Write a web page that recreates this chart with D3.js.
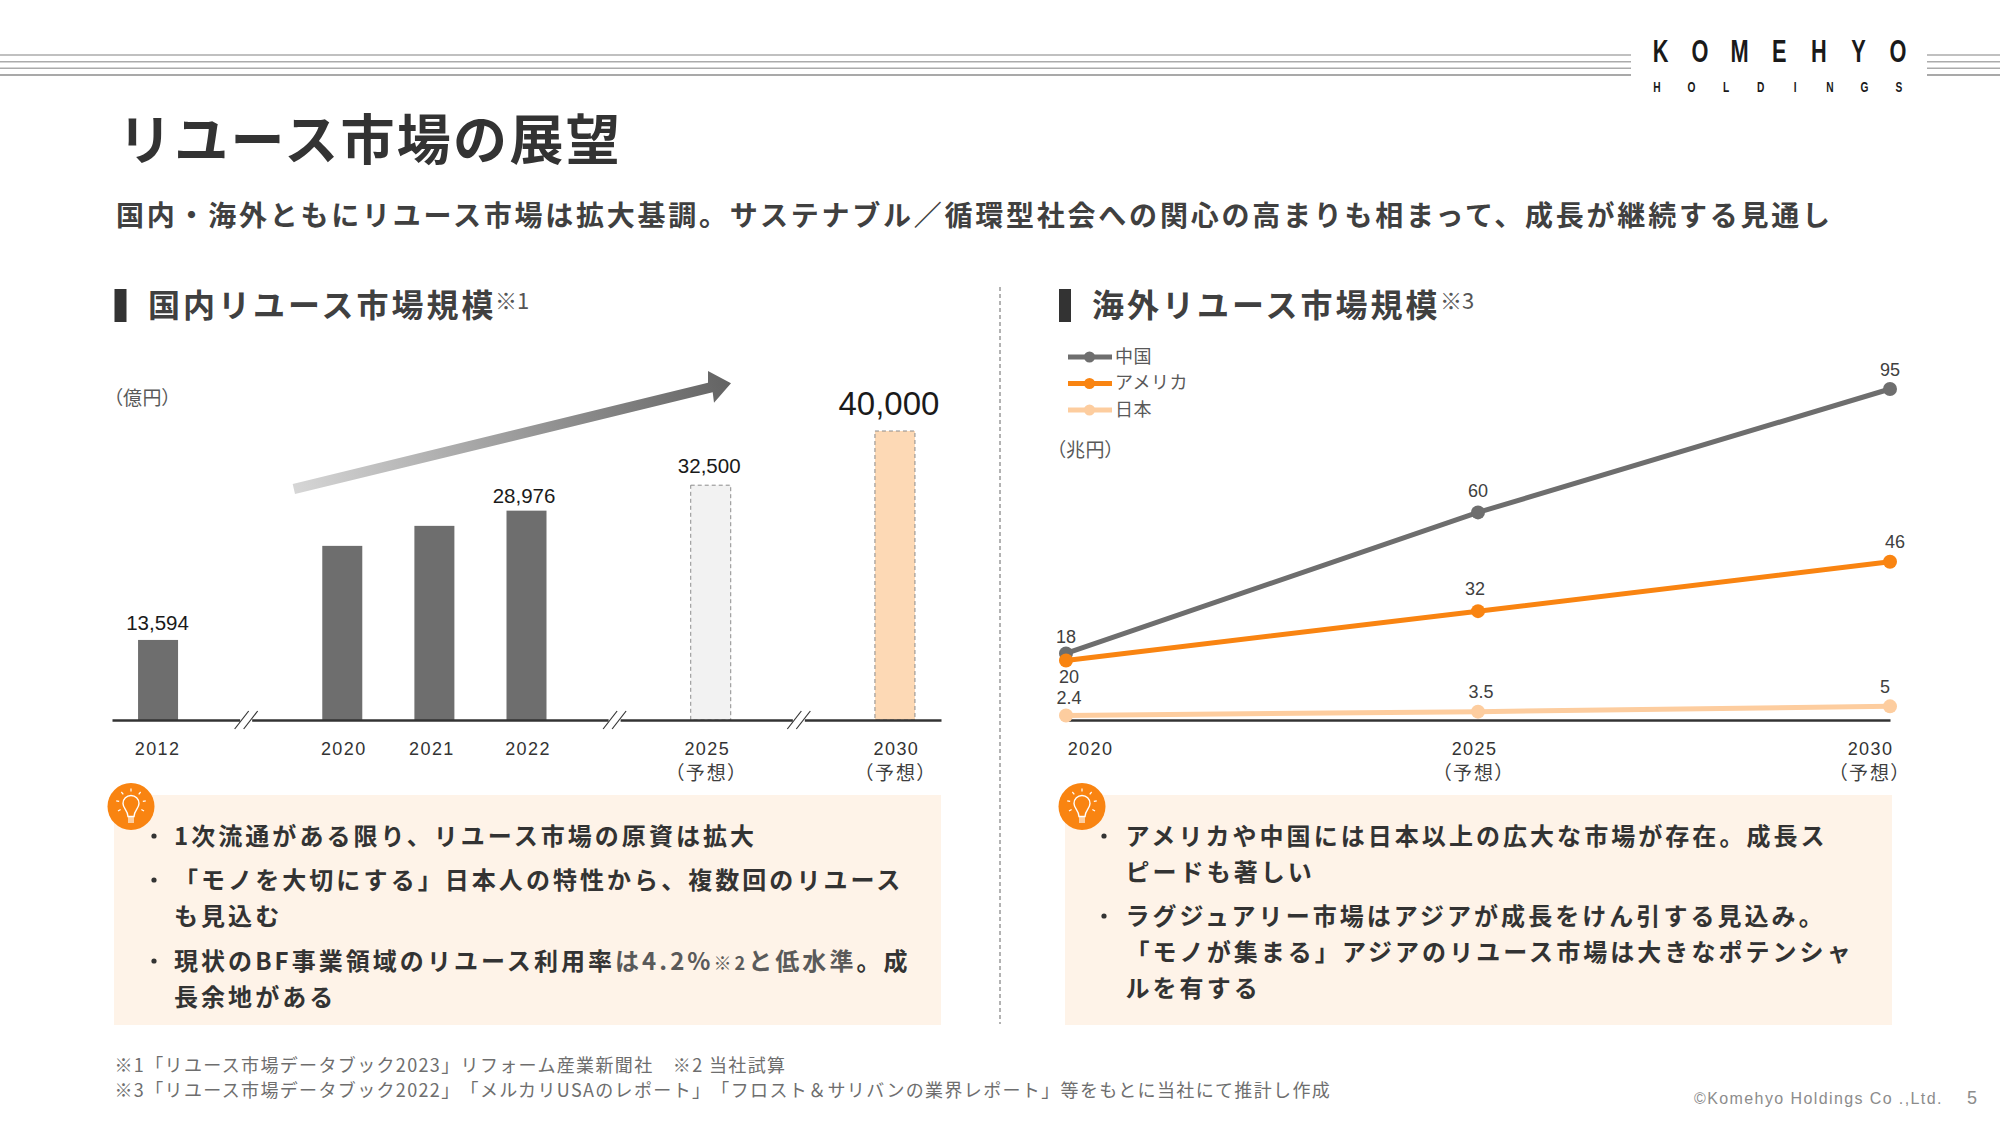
<!DOCTYPE html>
<html lang="ja">
<head>
<meta charset="utf-8">
<title>リユース市場の展望</title>
<script src="https://cdn.jsdelivr.net/npm/d3@7"></script>
<style>
  body { margin: 0; background: #fff; }
  text { font-family: "Noto Sans CJK JP", "Noto Sans", sans-serif; text-spacing-trim: space-all; }
  .num text, text.num { font-family: "Liberation Sans", "Noto Sans CJK JP", sans-serif; }
</style>
</head>
<body>
<svg id="slide" width="2000" height="1125" viewBox="0 0 2000 1125"></svg>
<script>
// domestic market bars. the b* slots only hold room for the axis breaks
var barSlots = ['2012', 'b1', '2020', '2021', '2022', 'b2', '2025', 'b3', '2030'];
var barYears = ['2012', '2020', '2021', '2022', '2025', '2030'];
// heights as drawn, the 2012 bar is shorter in the picture than its label says
var barValues = [11080, 24100, 26870, 28976, 32500, 40000];
var barLabels = ['13,594', '', '', '28,976', '32,500', '40,000'];
var forecastYears = ['2025', '2030'];
var breakSlots = ['b1', 'b2', 'b3'];

// overseas market lines
var lineYears = ['2020', '2025', '2030'];
var chinaValues = [20, 60, 95];
var usaValues = [18, 32, 46];
var japanValues = [2.4, 3.5, 5];
var chinaLabels = ['18', '60', '95'];
var usaLabels = ['20', '32', '46'];
var japanLabels = ['2.4', '3.5', '5'];
var seriesNames = ['中国', 'アメリカ', '日本'];
var seriesColors = ['#6e6e6e', '#f98411', '#fdcd9f'];

var logoTop = ['K', 'O', 'M', 'E', 'H', 'Y', 'O'];
var logoBottom = ['H', 'O', 'L', 'D', 'I', 'N', 'G', 'S'];
var headerLines = [55, 61.7, 68.3, 75];

var svg = d3.select('#slide');
var defs = svg.append('defs');

// text helper, y is the visual middle of the line
var addText = function (parent, str, x, y, size, opts) {
  opts = opts || {};
  return parent.append('text')
    .attr('x', x)
    .attr('y', y + size * (opts.num ? 0.36 : 0.37))
    .attr('class', opts.num ? 'num' : null)
    .attr('text-anchor', opts.anchor || 'start')
    .style('font-size', size + 'px')
    .style('font-weight', opts.weight || 400)
    .style('fill', opts.color || '#404040')
    .style('letter-spacing', (opts.ls || 0) + 'px')
    .style('font-feature-settings', opts.palt ? '"palt"' : null)
    .text(str);
};

/* header rules and logo */
var headerG = svg.append('g');
headerLines.forEach(function (y, i) {
  var col = i === 3 ? '#8c8c8c' : '#ababab';
  headerG.append('line').attr('x1', 0).attr('x2', 1631).attr('y1', y).attr('y2', y)
    .attr('stroke', col).attr('stroke-width', 1.5);
  headerG.append('line').attr('x1', 1927).attr('x2', 2000).attr('y1', y).attr('y2', y)
    .attr('stroke', col).attr('stroke-width', 1.5);
});

// the logo type is narrow, so each letter is squeezed on its own
var logoTopX = d3.scalePoint().domain(d3.range(logoTop.length)).range([1660.5, 1898]);
var logoBottomX = d3.scalePoint().domain(d3.range(logoBottom.length)).range([1657, 1899]);
logoTop.forEach(function (c, i) {
  headerG.append('text').attr('text-anchor', 'middle')
    .attr('transform', 'translate(' + logoTopX(i) + ',62) scale(0.68,1)')
    .style('font-family', '"Liberation Sans", sans-serif')
    .style('font-size', '32px').style('font-weight', 700).style('fill', '#1a1a1a').text(c);
});
logoBottom.forEach(function (c, i) {
  headerG.append('text').attr('text-anchor', 'middle')
    .attr('transform', 'translate(' + logoBottomX(i) + ',92) scale(0.68,1)')
    .style('font-family', '"Liberation Sans", sans-serif')
    .style('font-size', '15px').style('font-weight', 700).style('fill', '#1a1a1a').text(c);
});

/* titles */
addText(svg, 'リユース市場の展望', 118, 140, 54, { weight: 700, color: '#333', ls: 2.3 });
addText(svg, '国内・海外ともにリユース市場は拡大基調。サステナブル／循環型社会への関心の高まりも相まって、成長が継続する見通し',
  116, 216, 28, { weight: 700, ls: 2.76 });

var sectionHead = function (barX, textX, str, noteX, note) {
  svg.append('rect').attr('x', barX).attr('y', 289).attr('width', 12).attr('height', 33).attr('fill', '#333');
  addText(svg, str, textX, 305, 32, { weight: 700, ls: 3 });
  addText(svg, note, noteX, 301, 22, { color: '#555' });
};
sectionHead(114.5, 148, '国内リユース市場規模', 495, '※1');
sectionHead(1059, 1092, '海外リユース市場規模', 1440, '※3');

svg.append('line').attr('x1', 1000).attr('x2', 1000).attr('y1', 287).attr('y2', 1024)
  .attr('stroke', '#666').attr('stroke-width', 1).attr('stroke-dasharray', '4 3');

/* left chart */
var leftG = svg.append('g');
var barX = d3.scalePoint().domain(barSlots).range([112, 941]).padding(0.5);
var barY = d3.scaleLinear().domain([0, 40000]).range([720, 431]);
var barWidth = 40;

var grad = defs.append('linearGradient').attr('id', 'arrowGrad')
  .attr('gradientUnits', 'userSpaceOnUse')
  .attr('x1', 293).attr('y1', 489).attr('x2', 731).attr('y2', 383);
grad.append('stop').attr('offset', 0).attr('stop-color', '#d6d6d6');
grad.append('stop').attr('offset', 1).attr('stop-color', '#636363');
leftG.append('path')
  .attr('d', 'M292.7,484 L708,382.7 L708,371 L731,383.3 L714,402.7 L712.7,392.3 L295,494 Z')
  .attr('fill', 'url(#arrowGrad)');

addText(leftG, '（億円）', 113, 398, 19, { palt: true, color: '#595959', ls: 0.5 });

leftG.selectAll('rect.bar').data(barYears).enter().append('rect')
  .attr('class', 'bar')
  .attr('x', function (d) { return barX(d) - barWidth / 2; })
  .attr('width', barWidth)
  .attr('y', function (d, i) { return barY(barValues[i]); })
  .attr('height', function (d, i) { return barY(0) - barY(barValues[i]); })
  .attr('fill', function (d) {
    if (d === '2025') return '#f2f2f2';
    if (d === '2030') return '#fdd9b5';
    return '#6e6e6e';
  })
  .attr('stroke', function (d) { return forecastYears.indexOf(d) >= 0 ? '#8c8c8c' : 'none'; })
  .attr('stroke-width', 1)
  .attr('stroke-dasharray', '4 3');

var barAxis = d3.axisBottom(barX).tickValues(barYears).tickSize(0).tickPadding(22.5);
var barAxisG = leftG.append('g').attr('class', 'num').attr('transform', 'translate(0,720)').call(barAxis);
barAxisG.select('.domain').attr('stroke', '#333').attr('stroke-width', 2.5);
barAxisG.selectAll('text')
  .attr('dx', function (d) {
    return { '2012': -1, '2020': 1, '2021': -3, '2022': 1, '2025': -4, '2030': 1 }[d];
  })
  .style('font-size', '18px').style('letter-spacing', '1.4px').style('fill', '#333');

// axis break marks
breakSlots.forEach(function (s) {
  var cx = barX(s) - 4;
  leftG.append('rect').attr('x', cx - 6).attr('y', 717).attr('width', 12).attr('height', 6).attr('fill', '#fff');
  [-4.5, 4.5].forEach(function (dx) {
    leftG.append('line')
      .attr('x1', cx + dx - 7).attr('y1', 729).attr('x2', cx + dx + 7).attr('y2', 711)
      .attr('stroke', '#333').attr('stroke-width', 1.2);
  });
});

var barLabelStyle = {
  '2012': { dx: -0.5, size: 20.5, baseline: 630 },
  '2022': { dx: -2.5, size: 20.5, baseline: 503 },
  '2025': { dx: -1.5, size: 20.5, baseline: 473 },
  '2030': { dx: -6, size: 33, baseline: 415 }
};
barYears.forEach(function (y, i) {
  if (!barLabels[i]) return;
  var st = barLabelStyle[y];
  leftG.append('text').attr('class', 'num')
    .attr('x', barX(y) + st.dx).attr('y', st.baseline).attr('text-anchor', 'middle')
    .style('font-size', st.size + 'px').style('fill', '#1a1a1a').text(barLabels[i]);
});
addText(leftG, '（予想）', barX('2025') - 4, 773, 19, { anchor: 'middle', palt: true, ls: 2, color: '#404040' });
addText(leftG, '（予想）', barX('2030') + 1, 773, 19, { anchor: 'middle', palt: true, ls: 2, color: '#404040' });

/* right chart */
var rightG = svg.append('g');
var lineX = d3.scalePoint().domain(lineYears).range([1066, 1890]);
var lineY = d3.scaleLinear().domain([0, 95]).range([724, 389]);
var seriesValues = [chinaValues, usaValues, japanValues];
var seriesLabels = [chinaLabels, usaLabels, japanLabels];

var lineAxis = d3.axisBottom(lineX).tickSize(0).tickPadding(22.5);
var lineAxisG = rightG.append('g').attr('class', 'num').attr('transform', 'translate(0,720)').call(lineAxis);
lineAxisG.select('.domain').attr('stroke', '#333').attr('stroke-width', 2.5);
lineAxisG.selectAll('text')
  .attr('dx', function (d) { return { '2020': 24, '2025': -4, '2030': -20 }[d]; })
  .style('font-size', '18px').style('letter-spacing', '1.4px').style('fill', '#333');

var lineGen = d3.line()
  .x(function (d, i) { return lineX(lineYears[i]); })
  .y(function (d) { return lineY(d); });

seriesValues.forEach(function (vals, s) {
  rightG.append('path').attr('d', lineGen(vals)).attr('fill', 'none')
    .attr('stroke', seriesColors[s]).attr('stroke-width', 5);
  rightG.selectAll('circle.s' + s).data(vals).enter().append('circle')
    .attr('class', 's' + s)
    .attr('cx', function (d, i) { return lineX(lineYears[i]); })
    .attr('cy', function (d) { return lineY(d); })
    .attr('r', 7)
    .attr('fill', seriesColors[s]);
});

// label offsets from each point, series by series
var labelNudge = [
  [[0, -17], [0, -22], [0, -19]],
  [[3, 16], [-3, -23], [5, -20]],
  [[3, -18], [3, -20], [-5, -20]]
];
seriesLabels.forEach(function (labs, s) {
  labs.forEach(function (lab, i) {
    addText(rightG, lab,
      lineX(lineYears[i]) + labelNudge[s][i][0],
      lineY(seriesValues[s][i]) + labelNudge[s][i][1],
      18, { anchor: 'middle', num: true, color: '#404040' });
  });
});

addText(rightG, '（予想）', lineX('2025') - 4, 773, 19, { anchor: 'middle', palt: true, ls: 2, color: '#404040' });
addText(rightG, '（予想）', lineX('2030') - 20, 773, 19, { anchor: 'middle', palt: true, ls: 2, color: '#404040' });
addText(rightG, '（兆円）', 1056, 450, 19, { palt: true, color: '#595959', ls: 0.5 });

// legend
var legendY = d3.scalePoint().domain(seriesNames).range([357, 410]);
seriesNames.forEach(function (name, s) {
  var y = legendY(name);
  rightG.append('line').attr('x1', 1068).attr('x2', 1112).attr('y1', y).attr('y2', y)
    .attr('stroke', seriesColors[s]).attr('stroke-width', 5);
  rightG.append('circle').attr('cx', 1089.5).attr('cy', y).attr('r', 5.5).attr('fill', seriesColors[s]);
  addText(rightG, name, 1115, y - 1, 18, { color: '#595959', ls: 0.5 });
});

/* comment boxes */
var drawBox = function (x, w, iconX) {
  svg.append('rect').attr('x', x).attr('y', 795).attr('width', w).attr('height', 230).attr('fill', '#fef3e8');
  var icon = svg.append('g').attr('transform', 'translate(' + iconX + ',806.5)');
  icon.append('circle').attr('r', 23.5).attr('fill', '#f98411');
  icon.append('path')
    .attr('d', 'M-3,10 C-3,4 -8,2 -8,-3 A8,8 0 1 1 8,-3 C8,2 3,4 3,10 Z')
    .attr('fill', 'none').attr('stroke', '#fff').attr('stroke-width', 1.4);
  [11.5, 13.5, 15.5].forEach(function (y) {
    icon.append('line').attr('x1', -3).attr('x2', 3).attr('y1', y).attr('y2', y)
      .attr('stroke', '#fff').attr('stroke-width', 1.2);
  });
  [-90, -50, -130, -10, -170, 30, 150].forEach(function (a) {
    var r = a * Math.PI / 180;
    icon.append('line')
      .attr('x1', Math.cos(r) * 12).attr('y1', -3 + Math.sin(r) * 12)
      .attr('x2', Math.cos(r) * 15).attr('y2', -3 + Math.sin(r) * 15)
      .attr('stroke', '#fff').attr('stroke-width', 1.2);
  });
};
drawBox(114, 827, 131);
drawBox(1065, 827, 1082);

var bodyOpts = { weight: 700, ls: 3.05, color: '#333' };
var bullet = function (x, y) {
  svg.append('circle').attr('cx', x).attr('cy', y).attr('r', 2.6).attr('fill', '#333');
};

bullet(154, 836);
addText(svg, '1次流通がある限り、リユース市場の原資は拡大', 174, 836, 24, bodyOpts);
bullet(154, 880);
addText(svg, '「モノを大切にする」日本人の特性から、複数回のリユース', 174, 880, 24, bodyOpts);
addText(svg, 'も見込む', 174, 916, 24, bodyOpts);
bullet(154, 961);
var mixed = addText(svg, '現状のBF事業領域のリユース利用率', 174, 961, 24, bodyOpts).style('letter-spacing', '3.05px');
mixed.append('tspan').style('fill', '#5a5a5a').text('は4.2%');
mixed.append('tspan').style('font-size', '18px').style('fill', '#5a5a5a').text('※2');
mixed.append('tspan').style('fill', '#5a5a5a').text('と低水準');
mixed.append('tspan').text('。成');
addText(svg, '長余地がある', 174, 997, 24, bodyOpts);

bullet(1104, 836);
addText(svg, 'アメリカや中国には日本以上の広大な市場が存在。成長ス', 1125.5, 836, 24, bodyOpts);
addText(svg, 'ピードも著しい', 1125.5, 872, 24, bodyOpts);
bullet(1104, 916);
addText(svg, 'ラグジュアリー市場はアジアが成長をけん引する見込み。', 1125.5, 916, 24, bodyOpts);
addText(svg, '「モノが集まる」アジアのリユース市場は大きなポテンシャ', 1125.5, 952, 24, bodyOpts);
addText(svg, 'ルを有する', 1125.5, 988, 24, bodyOpts);

/* foot notes */
var noteOpts = { color: '#6e6e6e', ls: 1.35 };
addText(svg, '※1「リユース市場データブック2023」リフォーム産業新聞社　※2 当社試算', 114.5, 1065, 18, noteOpts);
addText(svg, '※3「リユース市場データブック2022」「メルカリUSAのレポート」「フロスト＆サリバンの業界レポート」等をもとに当社にて推計し作成', 114.5, 1090, 18, noteOpts);
addText(svg, '©Komehyo Holdings Co .,Ltd.', 1694, 1098, 16, { num: true, color: '#8c8c8c', ls: 1.4 });
addText(svg, '5', 1967, 1098, 18, { num: true, color: '#8c8c8c' });
</script>
</body>
</html>
